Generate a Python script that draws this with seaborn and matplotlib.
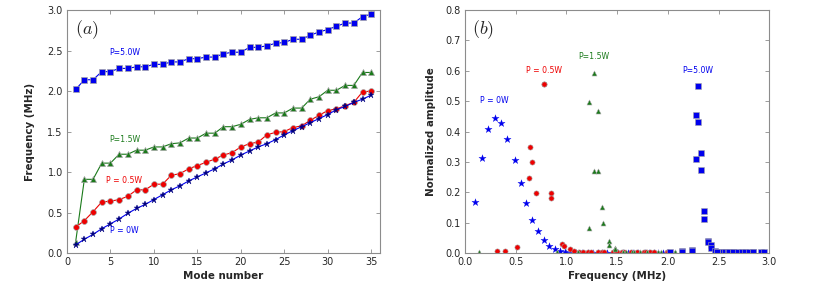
import numpy as np
import matplotlib
matplotlib.use("Agg")
import matplotlib.pyplot as plt
import seaborn as sns

sns.set_style("ticks")
plt.rcParams['font.family'] = ['DejaVu Sans']
plt.rcParams['mathtext.fontset'] = 'cm'

# mode numbers and mode frequencies (MHz) for each pump power
modes = list(range(1, 36))
f_0w = [0.10, 0.17, 0.23, 0.30, 0.36, 0.42, 0.49, 0.55, 0.60, 0.66, 0.72, 0.78,
        0.83, 0.89, 0.94, 0.99, 1.04, 1.10, 1.15, 1.21, 1.26, 1.31, 1.35, 1.40,
        1.46, 1.51, 1.56, 1.61, 1.66, 1.71, 1.77, 1.81, 1.86, 1.90, 1.95]
f_05w = [0.32, 0.40, 0.51, 0.63, 0.64, 0.66, 0.70, 0.78, 0.78, 0.85, 0.85, 0.96,
         0.98, 1.04, 1.08, 1.12, 1.16, 1.21, 1.24, 1.31, 1.35, 1.37, 1.46, 1.49,
         1.50, 1.55, 1.57, 1.64, 1.70, 1.76, 1.78, 1.82, 1.86, 1.99, 2.00]
f_15w = [0.14, 0.91, 0.91, 1.11, 1.11, 1.22, 1.22, 1.27, 1.27, 1.31, 1.31, 1.35,
         1.36, 1.42, 1.42, 1.48, 1.48, 1.56, 1.56, 1.59, 1.65, 1.67, 1.67, 1.73,
         1.73, 1.79, 1.79, 1.90, 1.93, 2.01, 2.01, 2.07, 2.07, 2.23, 2.23]
f_5w = [2.02, 2.14, 2.14, 2.24, 2.24, 2.28, 2.28, 2.30, 2.30, 2.33, 2.33, 2.36,
        2.36, 2.40, 2.40, 2.42, 2.42, 2.46, 2.48, 2.48, 2.54, 2.54, 2.56, 2.59,
        2.60, 2.64, 2.64, 2.69, 2.73, 2.76, 2.80, 2.84, 2.84, 2.92, 2.95]

# normalized amplitude of each mode
a_0w = [0.169, 0.314, 0.408, 0.445, 0.428, 0.375, 0.305, 0.230, 0.164, 0.110,
        0.071, 0.043, 0.024, 0.012, 0.006, 0.002] + [0.001] * 19
a_05w = [0.005, 0.008, 0.021, 0.247, 0.348, 0.300, 0.197, 0.558, 0.555, 0.198,
         0.181, 0.030, 0.024, 0.012, 0.008, 0.004, 0.003] + [0.002] * 18
a_15w = [0.002, 0.003, 0.003, 0.004, 0.004, 0.497, 0.082, 0.593, 0.269, 0.468,
         0.269, 0.151, 0.098, 0.041, 0.028, 0.017, 0.012] + [0.002] * 18
a_5w = [0.002, 0.005, 0.004, 0.009, 0.007, 0.455, 0.308, 0.549, 0.431, 0.329,
        0.274, 0.137, 0.112, 0.041, 0.036, 0.025, 0.018, 0.007, 0.004,
        0.003] + [0.002] * 15

blue = '#0000ee'
green = '#1a7a1a'
red = '#ee0000'
navy = '#000080'

fig = plt.figure(figsize=(8.3, 2.93), dpi=100)
ax1 = fig.add_axes([0.0807, 0.1365, 0.377, 0.829])
ax2 = fig.add_axes([0.560, 0.1365, 0.367, 0.829])

# (a) mode frequencies
edge = '0.65'
sns.lineplot(x=modes, y=f_5w, ax=ax1, color=blue, lw=0.8, marker='s',
             markersize=4.2, mec=edge, mew=0.5)
sns.lineplot(x=modes, y=f_15w, ax=ax1, color=green, lw=0.8, marker='^',
             markersize=4.2, mec=edge, mew=0.5)
sns.lineplot(x=modes, y=f_05w, ax=ax1, color=red, lw=0.8, marker='o',
             markersize=4.2, mec=edge, mew=0.5)
sns.lineplot(x=modes, y=f_0w, ax=ax1, color=blue, lw=0.8, marker='*',
             markersize=4.5, mfc=navy, mec=navy, mew=0.3)

ax1.text(4.9, 2.48, 'P=5.0W', color=blue, fontsize=5.6, va='center')
ax1.text(4.9, 1.40, 'P=1.5W', color=green, fontsize=5.6, va='center')
ax1.text(4.5, 0.89, 'P = 0.5W', color=red, fontsize=5.6, va='center')
ax1.text(4.9, 0.275, 'P = 0W', color=blue, fontsize=5.6, va='center')
ax1.text(0.025, 0.965, '$(a)$', transform=ax1.transAxes, fontsize=13,
         va='top', ha='left')

ax1.set_xlim(0, 36)
ax1.set_ylim(0, 3.0)
ax1.set_xticks(np.arange(0, 36, 5))
ax1.set_yticks(np.arange(0, 3.01, 0.5))
ax1.yaxis.set_major_formatter(matplotlib.ticker.FormatStrFormatter('%.1f'))
ax1.set_xlabel('Mode number', fontsize=7.4, fontweight='bold', labelpad=3)
ax1.set_ylabel('Frequency (MHz)', fontsize=7.4, fontweight='bold', labelpad=9)

# (b) amplitude spectra
sns.scatterplot(x=f_0w, y=a_0w, ax=ax2, color=blue, marker='*', s=30,
                edgecolor=blue, linewidth=0.2)
sns.scatterplot(x=f_05w, y=a_05w, ax=ax2, color=red, marker='o', s=14,
                edgecolor=edge, linewidth=0.4)
sns.scatterplot(x=f_15w, y=a_15w, ax=ax2, color=green, marker='^', s=13,
                edgecolor=edge, linewidth=0.4)
sns.scatterplot(x=f_5w, y=a_5w, ax=ax2, color=blue, marker='s', s=13,
                edgecolor=edge, linewidth=0.4)

ax2.text(0.152, 0.503, 'P = 0W', color=blue, fontsize=5.6, va='center')
ax2.text(0.606, 0.602, 'P = 0.5W', color=red, fontsize=5.6, va='center')
ax2.text(1.116, 0.646, 'P=1.5W', color=green, fontsize=5.6, va='center')
ax2.text(2.142, 0.600, 'P=5.0W', color=blue, fontsize=5.6, va='center')
ax2.text(0.025, 0.965, '$(b)$', transform=ax2.transAxes, fontsize=13,
         va='top', ha='left')

ax2.set_xlim(0, 3.0)
ax2.set_ylim(0, 0.8)
ax2.set_xticks(np.arange(0, 3.01, 0.5))
ax2.set_yticks(np.arange(0, 0.81, 0.1))
ax2.xaxis.set_major_formatter(matplotlib.ticker.FormatStrFormatter('%.1f'))
ax2.yaxis.set_major_formatter(matplotlib.ticker.FormatStrFormatter('%.1f'))
ax2.set_xlabel('Frequency (MHz)', fontsize=7.4, fontweight='bold', labelpad=3)
ax2.set_ylabel('Normalized amplitude', fontsize=7.4, fontweight='bold', labelpad=7)

for ax in (ax1, ax2):
    for sp in ax.spines.values():
        sp.set_visible(True)
        sp.set_color('0.55')
        sp.set_linewidth(0.8)
    ax.tick_params(direction='in', top=True, right=True, length=3, width=0.6,
                   color='0.55', labelsize=7, pad=3)

fig.savefig('out.png', dpi=100)
